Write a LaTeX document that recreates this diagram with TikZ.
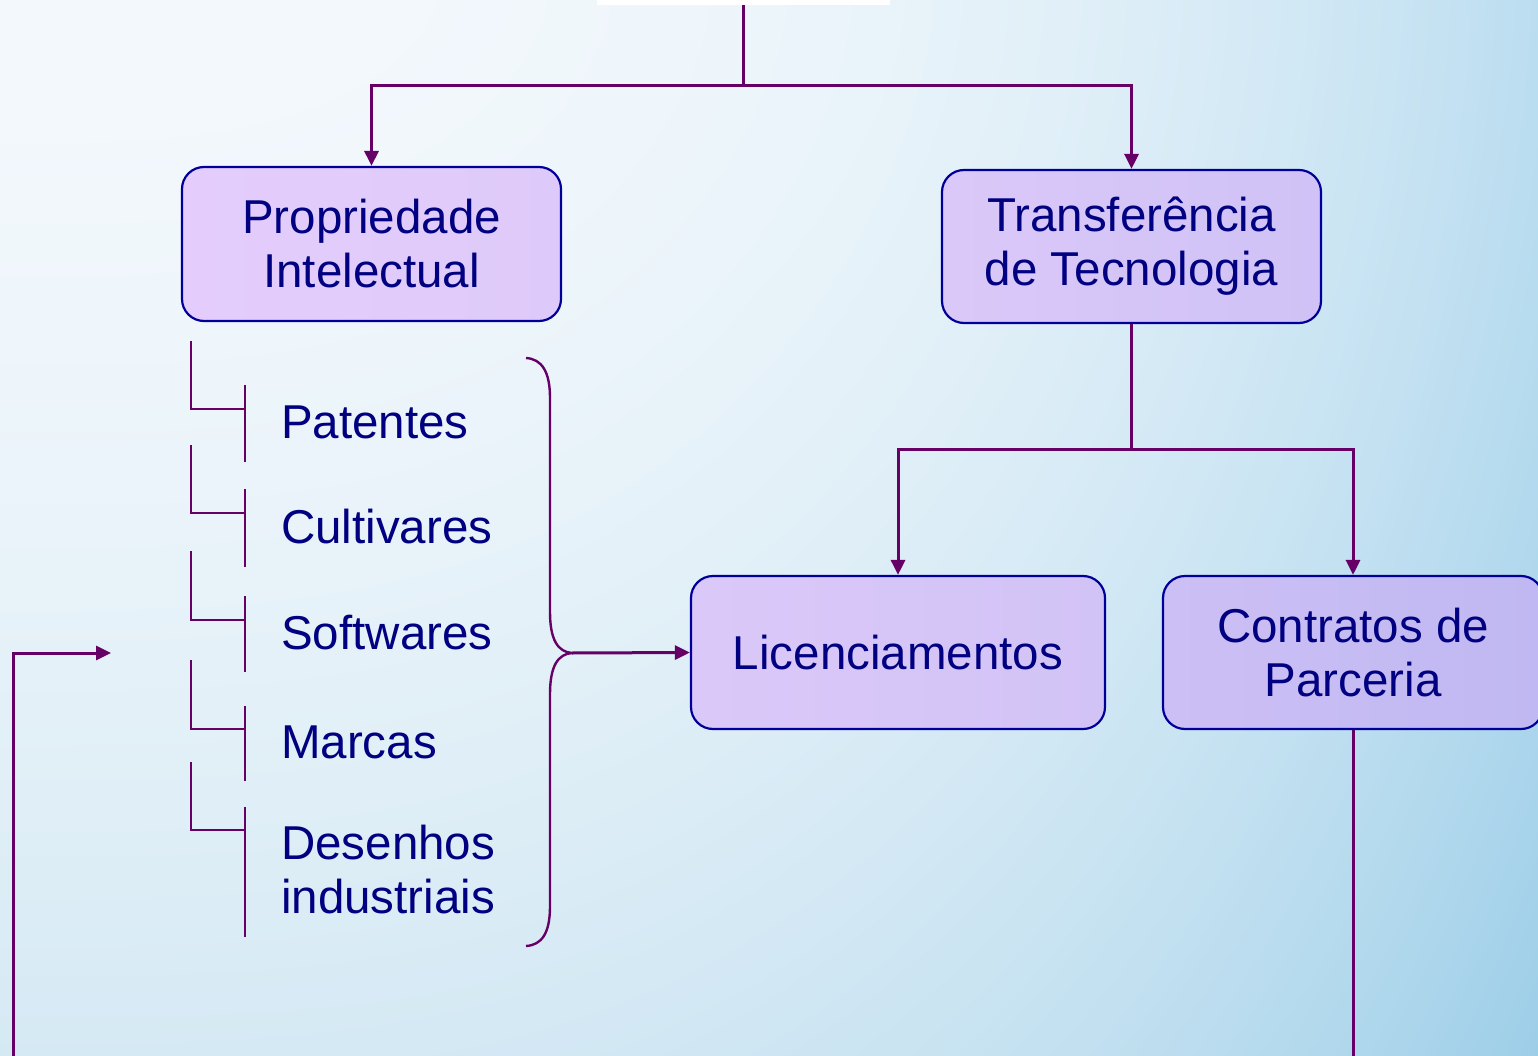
\documentclass[tikz,border=0pt]{standalone}
\usepackage{fontspec}
\setmainfont{Liberation Sans}
\usetikzlibrary{arrows.meta,calc,shadings}
\definecolor{conncol}{HTML}{660066}
\definecolor{bordercol}{HTML}{000099}
\definecolor{textcol}{HTML}{000080}
\definecolor{piL}{RGB}{228,205,252}
\definecolor{piR}{RGB}{222,202,250}
\definecolor{ttL}{RGB}{218,200,248}
\definecolor{ttR}{RGB}{208,194,246}
\definecolor{liL}{RGB}{218,200,248}
\definecolor{liR}{RGB}{210,195,246}
\definecolor{coL}{RGB}{204,191,245}
\definecolor{coR}{RGB}{192,184,242}
\pgfdeclarefunctionalshading{bgshade}{\pgfpoint{-50bp}{-50bp}}{\pgfpoint{50bp}{50bp}}{}{
  25 exch sub 50 div abs 1.6 exp
  exch 25 add 50 div dup dup mul mul
  2 copy .22 mul exch .118 mul add .953 exch sub
  3 1 roll
  2 copy .106 mul exch .059 mul add .973 exch sub
  3 1 roll
  .047 mul exch .031 mul add .988 exch sub
}
\tikzset{
  box/.style={draw=bordercol, line width=2.2pt, rounded corners=22pt, align=center,
    text=textcol, font=\fontsize{47.5}{54}\selectfont, inner sep=0pt},
  conn/.style={draw=conncol, line width=3pt},
  listline/.style={draw=conncol, line width=2.4pt},
  arr/.style={conn, -{Triangle[length=15pt,width=14pt]}},
  item/.style={anchor=base west, text=textcol, font=\fontsize{47.5}{54}\selectfont, inner sep=0pt, align=left},
}
\begin{document}
\begin{tikzpicture}[x=1pt,y=-1pt]
\useasboundingbox (0,0) rectangle (1538,1056);
\clip (0,0) rectangle (1538,1056);
\shade[shading=bgshade] (0,0) rectangle (1538,1056);

% cut-off top node
\node[fill=white, minimum width=293pt, minimum height=10pt, inner sep=0pt] (top) at (743.5,0) {};

% boxes
\node[box, left color=piL, right color=piR,
      minimum width=379pt, minimum height=154pt] (pi) at (371.5,244) {Propriedade\\Intelectual};
\node[box, left color=ttL, right color=ttR,
      minimum width=379pt, minimum height=153pt] (tt) at (1131.5,246.5) {Transferência\\de Tecnologia};
\node[box, left color=liL, right color=liR,
      minimum width=414pt, minimum height=153pt] (lic) at (898,652.5) {Licenciamentos};
\node[box, left color=coL, right color=coR,
      minimum width=380pt, minimum height=153pt] (con) at (1353,652.5) {Contratos de\\Parceria};

% top connectors
\coordinate (j1) at (743.5,86);
\draw[conn] (top.south) -- (j1);
\draw[arr] (j1) -| (pi.north);
\draw[arr] (j1) -| (tt.north);

% transfer connectors
\coordinate (j2) at (1131.5,449);
\draw[conn] (tt.south) -- (j2);
\draw[arr] (j2) -| (lic.north);
\draw[arr] (j2) -| (con.north);

\coordinate (cb) at (1353,1062);
\draw[conn] (con.south) -- (cb);

% left return arrow
\coordinate (lb) at (13,1062);
\coordinate (la) at (111,653);
\draw[arr] (lb) |- (la);

% list items
\node[item] (pat) at (281,438) {Patentes};
\node[item] (cul) at (281,543) {Cultivares};
\node[item] (sof) at (281,649) {Softwares};
\node[item] (mar) at (281,758) {Marcas};
\node[item] (des) at (281,913) {Desenhos\\industriais};

% list brackets
\draw[listline] (191,341) |- (245,409);
\draw[listline] (245,385) -- (245,462);
\draw[listline] (191,445) |- (245,513);
\draw[listline] (245,489) -- (245,567);
\draw[listline] (191,551) |- (245,620);
\draw[listline] (245,596) -- (245,672);
\draw[listline] (191,660) |- (245,729);
\draw[listline] (245,706) -- (245,781);
\draw[listline] (191,762) |- (245,830);
\draw[listline] (245,807) -- (245,937);

% brace
\coordinate (bt) at (572,653);
\draw[listline] (526,358) .. controls (542,359) and (550,372) .. (550,398) -- (550,612)
  .. controls (550,640) and (558,652) .. (bt)
  .. controls (558,654) and (550,666) .. (550,694) -- (550,906)
  .. controls (550,933) and (542,945) .. (526,946);
\draw[arr] (bt) -- (lic.west);
\end{tikzpicture}
\end{document}
